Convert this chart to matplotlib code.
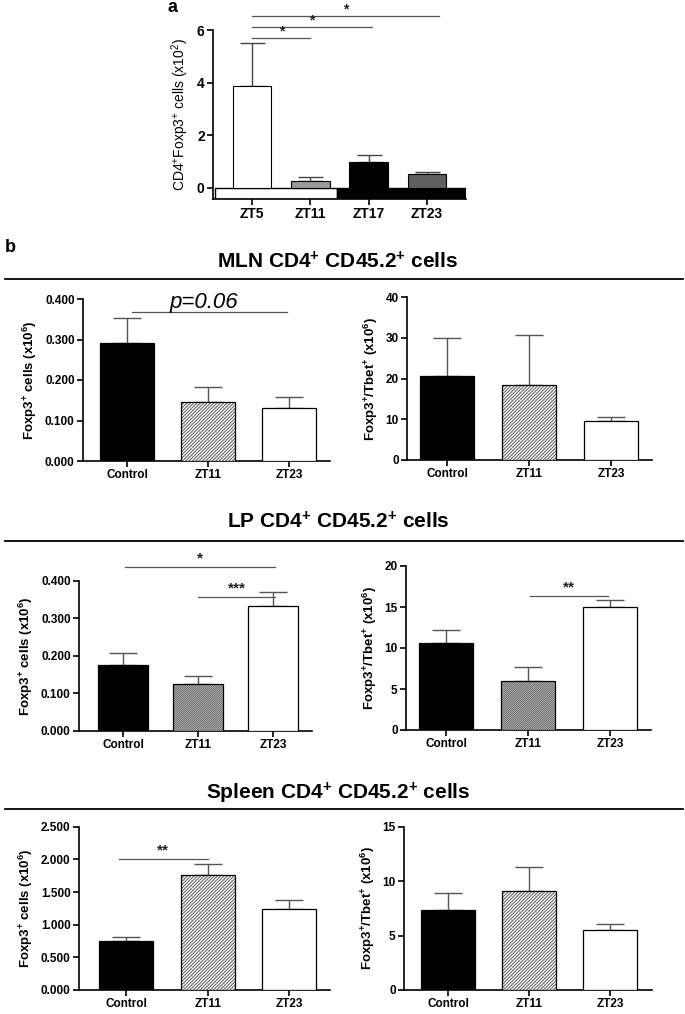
import matplotlib
matplotlib.use('Agg')
import matplotlib.pyplot as plt

plt.rcParams['font.family'] = ['Liberation Sans', 'DejaVu Sans']
plt.rcParams['hatch.linewidth'] = 0.8
plt.rcParams['mathtext.fontset'] = 'custom'
plt.rcParams['mathtext.rm'] = 'Liberation Sans'
plt.rcParams['mathtext.bf'] = 'Liberation Sans:bold'
plt.rcParams['mathtext.it'] = 'Liberation Sans:italic'

# Panel a data
zt_labels = ['ZT5', 'ZT11', 'ZT17', 'ZT23']
zt_means = [3.88, 0.27, 0.97, 0.53]
zt_errs = [1.64, 0.13, 0.28, 0.07]
zt_colors = ['white', '#9a9a9a', 'black', '#606060']

# Panel b data
groups = ['Control', 'ZT11', 'ZT23']
mln_foxp3 = [0.291, 0.146, 0.132]
mln_foxp3_err = [0.063, 0.037, 0.026]
mln_tbet = [20.7, 18.5, 9.5]
mln_tbet_err = [9.3, 12.2, 1.1]
lp_foxp3 = [0.176, 0.124, 0.333]
lp_foxp3_err = [0.031, 0.022, 0.036]
lp_tbet = [10.6, 6.0, 15.0]
lp_tbet_err = [1.6, 1.65, 0.8]
spl_foxp3 = [0.755, 1.756, 1.245]
spl_foxp3_err = [0.061, 0.174, 0.133]
spl_tbet = [7.35, 9.07, 5.48]
spl_tbet_err = [1.59, 2.26, 0.58]

W, H = 685, 1014
fig = plt.figure(figsize=(W / 100, H / 100), dpi=100)


def px_axes(x0, x1, ytop, ybot):
    return fig.add_axes([x0 / W, 1 - ybot / H, (x1 - x0) / W, (ybot - ytop) / H])


def style_axes(ax, fs=8.5):
    for s in ['top', 'right']:
        ax.spines[s].set_visible(False)
    for s in ['left', 'bottom']:
        ax.spines[s].set_linewidth(1.2)
    ax.tick_params(direction='out', length=4, width=1.2, labelsize=fs, pad=2)
    for lab in ax.get_xticklabels() + ax.get_yticklabels():
        lab.set_fontweight('bold')


def sig(ax, x0, x1, y, txt, dy, fs=11):
    ax.plot([x0, x1], [y, y], color='#555555', lw=0.9, clip_on=False)
    ax.text((x0 + x1) / 2, y + dy, txt, ha='center', va='center', fontsize=fs,
            fontweight='bold', color='#222222', clip_on=False)


# ---- panel a ----
ax = px_axes(213, 466, 30, 199)
xs = range(len(zt_labels))
ax.set_xlim(-0.67, 3.67)
ax.set_ylim(-0.42, 6)
ax.add_patch(plt.Rectangle((-0.64, -0.42), 2.09, 0.42, facecolor='white', edgecolor='black', lw=1, zorder=1))
ax.add_patch(plt.Rectangle((1.45, -0.42), 2.22, 0.42, facecolor='black', edgecolor='black', lw=1, zorder=1))
ax.bar(xs, zt_means, width=0.66, color=zt_colors, edgecolor='black', lw=0.8, zorder=3)
ax.errorbar(xs, zt_means, yerr=[[0] * 4, zt_errs], fmt='none', ecolor='#444444',
            elinewidth=1, capsize=9, capthick=1, zorder=2)
ax.set_xticks(list(xs))
ax.set_xticklabels(zt_labels)
ax.set_yticks([0, 2, 4, 6])
ax.set_ylabel('CD4$^{+}$Foxp3$^{+}$ cells (x10$^{2}$)', fontsize=10)
style_axes(ax, fs=10)
sig(ax, 0, 1, 5.71, '*', 0.22, fs=10)
sig(ax, 0, 2.05, 6.13, '*', 0.22, fs=10)
sig(ax, 0, 3.2, 6.55, '*', 0.22, fs=10)
fig.text(173 / W, 1 - 8 / H, 'a', fontsize=13, fontweight='bold', ha='center', va='center')

# ---- panel b ----
fig.text(10 / W, 1 - 247 / H, 'b', fontsize=13, fontweight='bold', ha='center', va='center')

sections = [('MLN', 262, 279), ('LP', 522, 541), ('Spleen', 793, 809)]
for name, ty, ly in sections:
    fig.text(338 / W, 1 - ty / H, name + r' CD4$^{\mathbf{+}}$ CD45.2$^{\mathbf{+}}$ cells',
             fontsize=15, fontweight='bold', ha='center', va='center')
    fig.add_artist(plt.Line2D([5 / W, 683 / W], [1 - ly / H, 1 - ly / H], color='black', lw=1.3))

bar_fill = ['black', 'white', 'white']


def panel(rect, xlim, vals, errs, ylim, yticks, yfmt, ylabel, hatch='//////////'):
    ax = px_axes(*rect)
    xs = range(len(groups))
    ax.bar(xs, vals, width=0.66, color=bar_fill, edgecolor='none', lw=0, zorder=3)
    ax.bar([1], [vals[1]], width=0.66, color='white', edgecolor='#6a6a6a', hatch=hatch, lw=0, zorder=3)
    ax.bar(xs, vals, width=0.66, fill=False, edgecolor='black', lw=0.9, zorder=4)
    ax.errorbar(xs, vals, yerr=[[0] * 3, errs], fmt='none', ecolor='#555555',
                elinewidth=1, capsize=10, capthick=1, zorder=2)
    ax.set_xlim(*xlim)
    ax.set_ylim(*ylim)
    ax.set_yticks(yticks)
    ax.set_yticklabels([yfmt.format(t) for t in yticks])
    ax.set_xticks(list(xs))
    ax.set_xticklabels(groups)
    ax.set_ylabel(ylabel, fontsize=9.5, fontweight='bold', labelpad=4)
    style_axes(ax)
    return ax


lab_l = r'Foxp3$^{\mathbf{+}}$ cells (x10$^{\mathbf{6}}$)'
lab_r = r'Foxp3$^{\mathbf{+}}$/Tbet$^{\mathbf{+}}$ (x10$^{\mathbf{6}}$)'

ax = panel((83, 330, 299, 461), (-0.543, 2.506), mln_foxp3, mln_foxp3_err, (0, 0.4),
           [0, 0.1, 0.2, 0.3, 0.4], '{:.3f}', lab_l)
ax.plot([0.06, 1.98], [0.369, 0.369], color='#555555', lw=0.9)
ax.text(0.95, 0.392, 'p=0.06', fontsize=16, style='italic', ha='center', va='center', clip_on=False)

panel((407, 652, 297, 460), (-0.488, 2.5), mln_tbet, mln_tbet_err, (0, 40),
      [0, 10, 20, 30, 40], '{:.0f}', lab_r)

ax = panel((79, 312, 580.7, 730.7), (-0.587, 2.52), lp_foxp3, lp_foxp3_err, (0, 0.4),
           [0, 0.1, 0.2, 0.3, 0.4], '{:.3f}', lab_l, hatch='////////////////')
sig(ax, 0.03, 2.03, 0.436, '*', 0.022)
sig(ax, 1.0, 2.03, 0.357, '***', 0.022)

ax = panel((406, 651, 566, 730), (-0.488, 2.5), lp_tbet, lp_tbet_err, (0, 20),
           [0, 5, 10, 15, 20], '{:.0f}', lab_r, hatch='////////////////')
sig(ax, 1.02, 1.98, 16.4, '**', 1.0)

ax = panel((79, 330, 826.7, 990), (-0.575, 2.497), spl_foxp3, spl_foxp3_err, (0, 2.5),
           [0, 0.5, 1.0, 1.5, 2.0, 2.5], '{:.3f}', lab_l)
sig(ax, -0.09, 1.0, 2.0, '**', 0.13)

panel((404, 652, 826.7, 990), (-0.543, 2.52), spl_tbet, spl_tbet_err, (0, 15),
      [0, 5, 10, 15], '{:.0f}', lab_r)

fig.savefig('out.png', dpi=100)
